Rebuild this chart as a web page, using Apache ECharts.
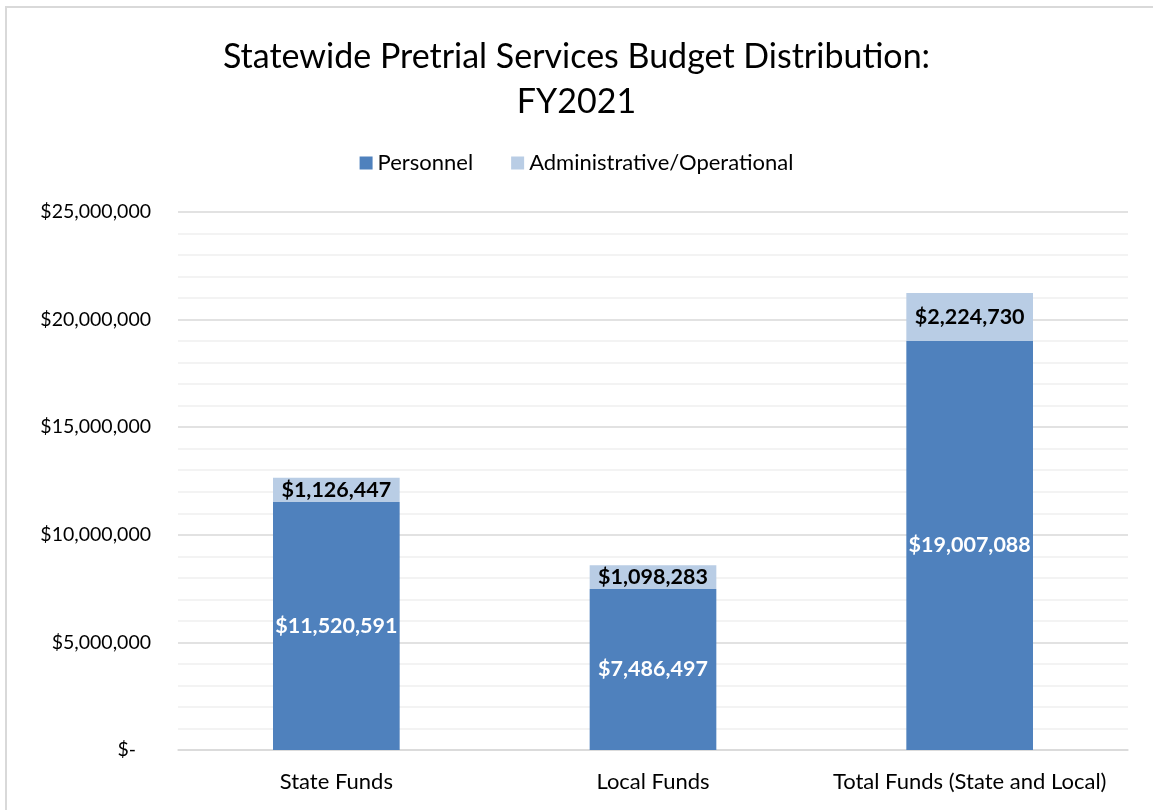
<!DOCTYPE html>
<html>
<head>
<meta charset="utf-8">
<script src="https://cdn.jsdelivr.net/npm/echarts@6/dist/echarts.min.js"></script>
<style>
  html, body { margin: 0; padding: 0; background: #fff; }
  #frame { position: absolute; left: 5px; top: 6px; width: 1160px; height: 820px;
           border-left: 2px solid #d9d9d9; border-top: 2px solid #d9d9d9; }
  #main { position: absolute; left: 0; top: 0; width: 1153px; height: 810px; }
</style>
</head>
<body>
<div id="frame"></div>
<div id="main"></div>
<script>
// budget values
let categories = ['State Funds', 'Local Funds', 'Total Funds (State and Local)'];
let personnel = [11520591, 7486497, 19007088];
let adminOps = [1126447, 1098283, 2224730];

function money(v) {
  return '$' + Math.round(v).toLocaleString('en-US');
}

let chart = echarts.init(document.getElementById('main'));
let fontFam = 'Lato, "Open Sans", sans-serif';

chart.setOption({
  animation: false,
  textStyle: { fontFamily: fontFam },
  title: {
    text: 'Statewide Pretrial Services Budget Distribution:\nFY2021',
    left: 'center',
    top: 30,
    textStyle: { fontSize: 34, fontWeight: 'normal', color: '#000', lineHeight: 45, fontFamily: fontFam }
  },
  legend: {
    top: 147,
    left: 'center',
    itemWidth: 13,
    itemHeight: 13,
    itemGap: 38,
    icon: 'rect',
    textStyle: { fontSize: 22, color: '#000', fontFamily: fontFam },
    data: ['Personnel', 'Administrative/Operational']
  },
  grid: { left: 178, right: 25, top: 212, bottom: 60 },
  xAxis: {
    type: 'category',
    data: categories,
    axisTick: { show: false },
    axisLine: { lineStyle: { color: '#d9d9d9', width: 1.5 } },
    axisLabel: { interval: 0, fontSize: 22, color: '#000', margin: 21 }
  },
  yAxis: {
    type: 'value',
    min: 0,
    max: 25000000,
    interval: 5000000,
    axisLabel: {
      fontSize: 19.5, color: '#000', margin: 27,
      formatter: function (v) { return v === 0 ? '$-   ' : money(v); }
    },
    splitLine: { lineStyle: { color: '#d9d9d9', width: 1.5 } },
    minorTick: { show: false, splitNumber: 5 },
    minorSplitLine: { show: true, lineStyle: { color: '#f0f0f0', width: 1.5 } }
  },
  series: [
    {
      name: 'Personnel',
      type: 'bar',
      stack: 'funds',
      barWidth: '40%',
      data: personnel,
      itemStyle: { color: '#4f81bd' },
      label: {
        show: true, position: 'inside', color: '#fff', fontWeight: 'bold', fontSize: 21.5,
        formatter: function (p) { return money(p.value); }
      }
    },
    {
      name: 'Administrative/Operational',
      type: 'bar',
      stack: 'funds',
      barWidth: '40%',
      data: adminOps,
      itemStyle: { color: '#b9cde5' },
      label: {
        show: true, position: 'inside', color: '#000', fontWeight: 'bold', fontSize: 21.5,
        formatter: function (p) { return money(p.value); }
      }
    }
  ]
});
</script>
</body>
</html>
